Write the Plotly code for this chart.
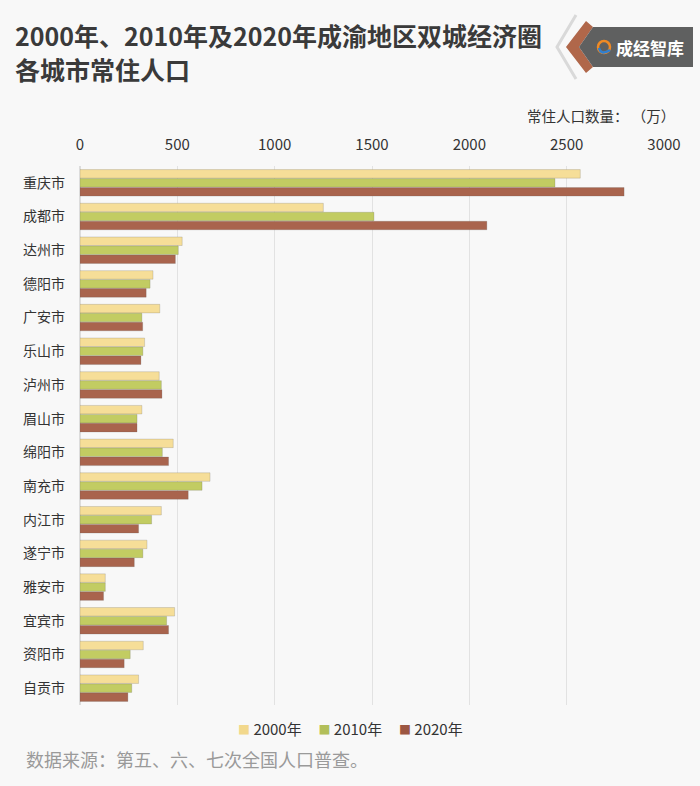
import plotly.graph_objects as go

cities = ["重庆市", "成都市", "达州市", "德阳市", "广安市", "乐山市", "泸州市", "眉山市",
          "绵阳市", "南充市", "内江市", "遂宁市", "雅安市", "宜宾市", "资阳市", "自贡市"]
pop_2000 = [2570, 1250, 525, 375, 410, 332, 407, 318, 479, 668, 418, 344, 130, 486, 325, 301]
pop_2010 = [2440, 1510, 505, 360, 318, 323, 418, 293, 423, 627, 368, 323, 130, 445, 258, 266]
pop_2020 = [2795, 2090, 490, 340, 322, 313, 421, 293, 455, 556, 301, 279, 121, 455, 227, 246]
series_names = ["2000年", "2010年", "2020年"]
x_ticks = [0, 500, 1000, 1500, 2000, 2500, 3000]

W, H = 700, 786
L, R, T, B = 80, 36, 166, 81
FONT = "Noto Sans CJK SC"
BG = "#f8f8f8"

def px(x):
    return (x - L) / (W - L - R)

def py(y):
    return (H - B - y) / (H - T - B)

def path(points, close=True):
    s = "M " + " L ".join(f"{px(a):.5f},{py(b):.5f}" for a, b in points)
    return s + (" Z" if close else "")

fig = go.Figure()
colors = ["#F6DE98", "#C2CC62", "#A9644D"]
legend_colors = ["#F2D88C", "#B2BF5A", "#9C5642"]
for name, vals, c in zip(series_names, [pop_2000, pop_2010, pop_2020], colors):
    fig.add_trace(go.Bar(
        y=cities, x=vals, name=name, orientation="h", showlegend=False,
        marker=dict(color=c, line=dict(color="rgba(90,90,90,0.35)", width=0.6)),
    ))

shapes = [
    dict(type="path", xref="paper", yref="paper",
         path=path([(576, 15), (557, 47), (576, 79)], close=False),
         line=dict(color="#d9d9d9", width=3), fillcolor="rgba(0,0,0,0)"),
    dict(type="path", xref="paper", yref="paper",
         path=path([(586, 21), (566, 47), (586, 73), (593, 67), (579, 47), (593, 27)]),
         line=dict(width=0), fillcolor="#B0674A"),
    dict(type="path", xref="paper", yref="paper",
         path=path([(593, 27), (693, 27), (693, 67), (593, 67), (579, 47)]),
         line=dict(width=0), fillcolor="#5f6060"),
    dict(type="circle", xref="paper", yref="paper",
         x0=px(598), x1=px(610), y0=py(53), y1=py(41),
         line=dict(color="#F08A24", width=2.5), fillcolor="rgba(0,0,0,0)"),
    dict(type="path", xref="paper", yref="paper",
         path=f"M {px(599):.5f},{py(48):.5f} Q {px(601):.5f},{py(56):.5f} {px(610):.5f},{py(50):.5f}",
         line=dict(color="#2F7FD0", width=2.5)),
]

legend_text = "&nbsp;&nbsp;&nbsp;&nbsp;&nbsp;".join(
    f"<span style='color:{c};font-size:12px'>■</span>&nbsp;{n}"
    for c, n in zip(legend_colors, series_names)
)

annotations = [
    dict(text="<b>2000年、2010年及2020年成渝地区双城经济圈</b>", xref="paper", yref="paper",
         x=px(13), y=py(35), xanchor="left", yanchor="middle", showarrow=False,
         font=dict(family=FONT, size=25, color="#3a3a3a")),
    dict(text="<b>各城市常住人口</b>", xref="paper", yref="paper",
         x=px(13), y=py(69), xanchor="left", yanchor="middle", showarrow=False,
         font=dict(family=FONT, size=25, color="#3a3a3a")),
    dict(text="常住人口数量：&nbsp;（万）", xref="paper", yref="paper", x=px(677), y=py(115),
         xanchor="right", yanchor="middle", showarrow=False,
         font=dict(family=FONT, size=14.5, color="#333333")),
    dict(text=legend_text, xref="paper", yref="paper", x=px(350), y=py(728),
         xanchor="center", yanchor="middle", showarrow=False,
         font=dict(family=FONT, size=15, color="#333333")),
    dict(text="数据来源：第五、六、七次全国人口普查。", xref="paper", yref="paper",
         x=px(24), y=py(759), xanchor="left", yanchor="middle", showarrow=False,
         font=dict(family=FONT, size=18, color="#9a9a9a")),
    dict(text="<b>成经智库</b>", xref="paper", yref="paper", x=px(650), y=py(47),
         xanchor="center", yanchor="middle", showarrow=False,
         font=dict(family=FONT, size=17, color="#ffffff")),
]

fig.update_layout(
    width=W, height=H,
    margin=dict(l=L, r=R, t=T, b=B),
    paper_bgcolor=BG, plot_bgcolor=BG,
    font=dict(family=FONT, size=14, color="#333333"),
    barmode="group", bargap=0.2, bargroupgap=0.05,
    showlegend=False,
    shapes=shapes, annotations=annotations,
    xaxis=dict(side="top", range=[0, 3000], tickvals=x_ticks, showgrid=True,
               gridcolor="#e2e2e2", gridwidth=1, zeroline=True, zerolinecolor="#dcdcdc",
               showline=False, ticks="", ticklabelstandoff=12,
               tickfont=dict(family=FONT, size=15, color="#333333"), fixedrange=True),
    yaxis=dict(autorange="reversed", showgrid=False, ticks="", ticklabelstandoff=14,
               tickfont=dict(family=FONT, size=14, color="#333333"), showline=False),
)

fig.write_html(
    "out.html",
    config={"displayModeBar": False},
    post_script="document.body.style.margin='0';document.body.style.background='" + BG + "';",
)
